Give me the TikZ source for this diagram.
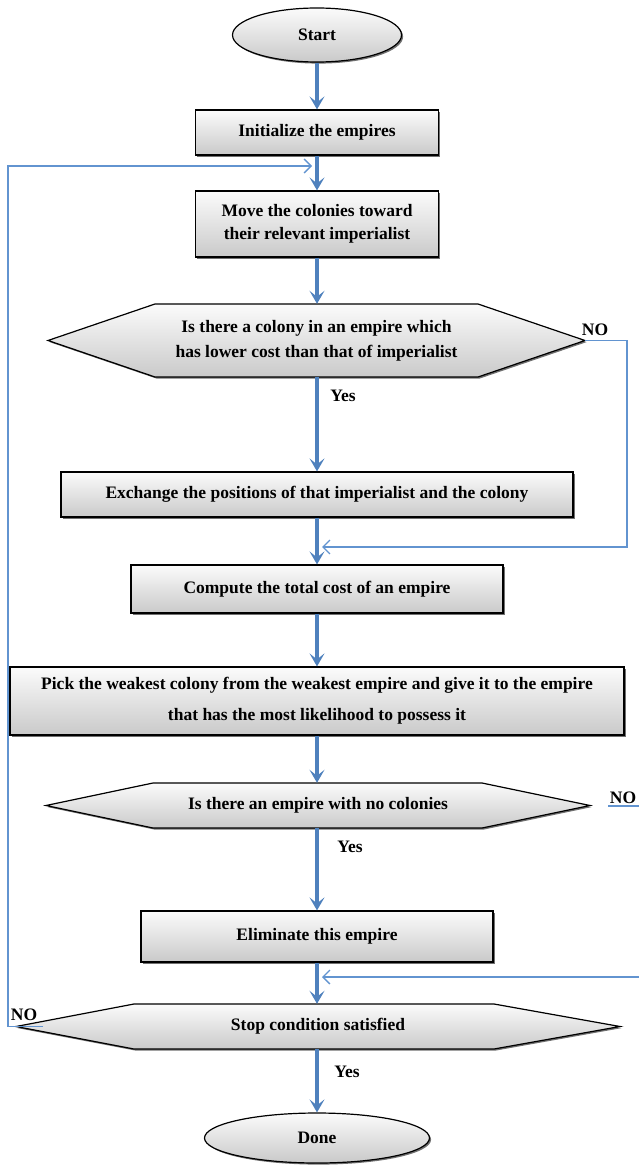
\documentclass[tikz,border=0pt]{standalone}
\usepackage{fontspec}
\setmainfont{Liberation Serif}
\usetikzlibrary{arrows.meta,shapes.geometric,shadows}
\definecolor{flowblue}{RGB}{79,129,189}
\definecolor{loopblue}{RGB}{98,148,208}
\begin{document}
\begin{tikzpicture}[x=1pt,y=-1pt,
  txt/.style={font=\fontsize{17.5}{23}\selectfont\bfseries},
  shade3d/.style={draw=black, line width=1.2pt, top color=gray!3, bottom color=gray!42,
    drop shadow={shadow xshift=1.6pt,shadow yshift=-1.6pt,opacity=0.75,fill=black!75}},
  box/.style={shade3d, rectangle, align=center, inner sep=0pt, txt},
  term/.style={shade3d, ellipse, align=center, inner sep=0pt, txt},
  hexnode/.style={rectangle, align=center, inner sep=0pt, txt},
  flow/.style={flowblue, line width=3.6pt, -{Stealth[length=13pt,width=15pt,inset=6pt]}},
  back/.style={loopblue, line width=1.3pt, -{Straight Barb[length=7pt,width=14pt]}},
  noline/.style={loopblue, line width=1.3pt},
  lbl/.style={txt, inner sep=0pt}
]
\useasboundingbox (0,0) rectangle (639,1166);

% terminals and boxes
\node[term, minimum width=169, minimum height=54] (start) at (317,35) {Start};
\node[box, minimum width=243, minimum height=45] (init) at (317,132.5) {Initialize the empires};
\node[box, minimum width=243, minimum height=66] (move) at (317,224) {Move the colonies toward\\their relevant imperialist};

% hexagon 1
\path[shade3d] (48,340.5) -- (155,304) -- (478,304) -- (585,340.5) -- (478,377) -- (155,377) -- cycle;
\node[hexnode, minimum width=537, minimum height=73, font=\fontsize{17.5}{25}\selectfont\bfseries] (h1) at (316.5,340.5) {Is there a colony in an empire which\\has lower cost than that of imperialist};

\node[box, minimum width=512, minimum height=45] (exch) at (317,494.5) {Exchange the positions of that imperialist and the colony};
\node[box, minimum width=372, minimum height=48] (comp) at (317,589) {Compute the total cost of an empire};
\node[box, minimum width=614, minimum height=68, font=\fontsize{17.5}{31}\selectfont\bfseries] (pick) at (317,701) {Pick the weakest colony from the weakest empire and give it to the empire\\that has the most likelihood to possess it};

% hexagon 2
\path[shade3d] (46,805.5) -- (153,783) -- (482,783) -- (590,805.5) -- (482,828) -- (153,828) -- cycle;
\node[hexnode, minimum width=544, minimum height=45] (h2) at (318,805.5) {Is there an empire with no colonies};

\node[box, minimum width=352, minimum height=51] (elim) at (317,936.5) {Eliminate this empire};

% hexagon 3
\path[shade3d] (16,1026.5) -- (134,1004) -- (494,1004) -- (620,1026.5) -- (494,1049) -- (134,1049) -- cycle;
\node[hexnode, minimum width=604, minimum height=45] (stop) at (318,1026.5) {Stop condition satisfied};

\node[term, minimum width=225, minimum height=50] (done) at (317,1138) {Done};

% main flow
\draw[flow] (start.south) -- (init.north);
\draw[flow] (init.south) -- (move.north);
\draw[flow] (move.south) -- (move.south |- h1.north);
\draw[flow] (exch.north |- h1.south) -- (exch.north);
\draw[flow] (exch.south) -- (comp.north);
\draw[flow] (comp.south) -- (comp.south |- pick.north);
\draw[flow] (pick.south) -- (pick.south |- h2.north);
\draw[flow] (elim.north |- h2.south) -- (elim.north);
\draw[flow] (elim.south) -- (elim.south |- stop.north);
\draw[flow] (done.north |- stop.south) -- (done.north);

% labels
\node[lbl] (yes1) at (343,396) {Yes};
\node[lbl] (yes2) at (350,847) {Yes};
\node[lbl] (yes3) at (347,1072) {Yes};
\node[lbl] (no1) at (595,330) {NO};
\node[lbl] (no2) at (623,798) {NO};
\node[lbl] (no3) at (24,1015) {NO};

% feedback lines
\coordinate (r1) at (627,340.5);
\coordinate (r1in) at (322,547);
\draw[back] (h1.east) -- (r1) |- (r1in);

\coordinate (n2a) at (608,806);
\coordinate (n2b) at (639,806);
\draw[noline] (n2a) -- (n2b);

\coordinate (r2) at (639,977);
\coordinate (r2in) at (322,977);
\draw[back] (r2) -- (r2in);

\coordinate (n3) at (43,1026.5);
\coordinate (l1) at (8,166);
\coordinate (l1in) at (312,166);
\draw[back] (n3) -| (l1) -- (l1in);
\end{tikzpicture}
\end{document}
